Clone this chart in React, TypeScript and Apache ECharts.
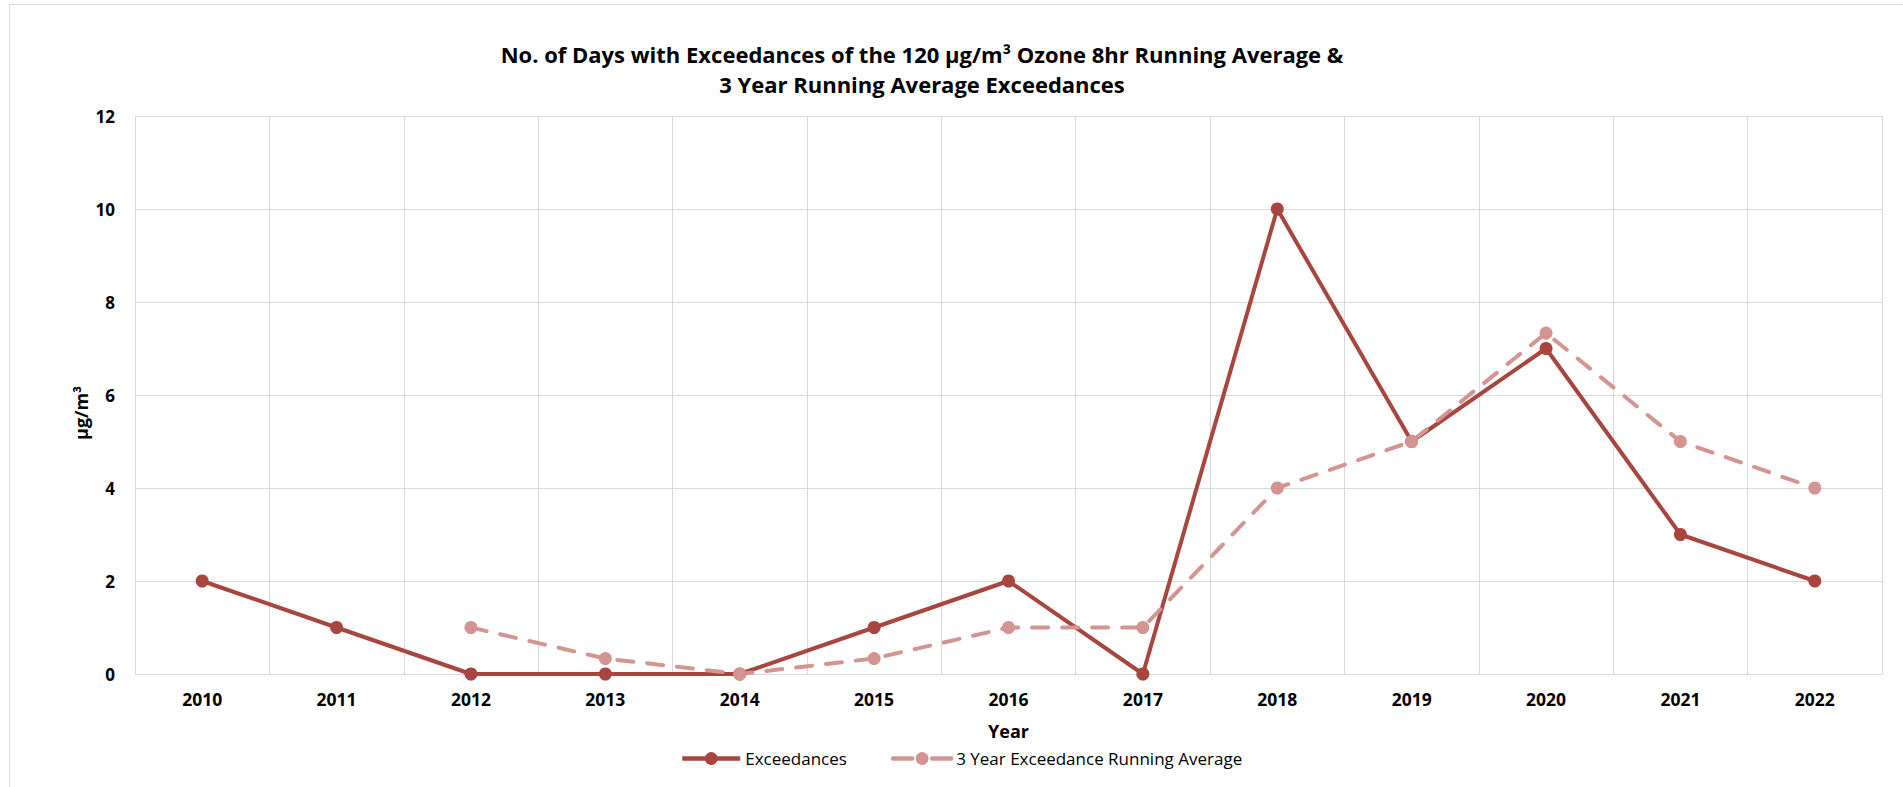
import React, { useEffect, useRef } from "react";
import * as echarts from "echarts";

const years = ["2010", "2011", "2012", "2013", "2014", "2015", "2016", "2017", "2018", "2019", "2020", "2021", "2022"];
const exceedances = [2, 1, 0, 0, 0, 1, 2, 0, 10, 5, 7, 3, 2];
const runningAverage = [null, null, 1, 0.333, 0, 0.333, 1, 1, 4, 5, 7.333, 5, 4];
const yTicks = [0, 2, 4, 6, 8, 10, 12];

const FONT = "'Open Sans', 'Noto Sans', sans-serif";
const DARK = "#A8453F";
const LIGHT = "#D39492";
const GRID = "#D9D9D9";

export default function App() {
  const ref = useRef<HTMLDivElement>(null);

  useEffect(() => {
    if (!ref.current) return;
    const chart = echarts.init(ref.current, null, { renderer: "svg" });
    chart.setOption({
      animation: false,
      backgroundColor: "#ffffff",
      textStyle: { fontFamily: FONT },
      graphic: [
        {
          type: "rect",
          shape: { x: 9.5, y: 4.5, width: 1920, height: 820 },
          style: { fill: "none", stroke: "#D9D9D9", lineWidth: 1 },
          silent: true,
        },
        {
          type: "text",
          x: 922,
          y: 54,
          style: {
            text: "No. of Days with Exceedances of the 120 µg/m³ Ozone 8hr Running Average &",
            font: `bold 22px ${FONT}`,
            fill: "#000000",
            textAlign: "center",
            textVerticalAlign: "middle",
          },
        },
        {
          type: "text",
          x: 922,
          y: 84,
          style: {
            text: "3 Year Running Average Exceedances",
            font: `bold 22px ${FONT}`,
            fill: "#000000",
            textAlign: "center",
            textVerticalAlign: "middle",
          },
        },
        {
          // y-axis title, placed by hand so it sits a little below the plot centre
          type: "text",
          x: 81,
          y: 413,
          rotation: Math.PI / 2,
          style: {
            text: "µg/m³",
            font: `bold 18px ${FONT}`,
            fill: "#000000",
            textAlign: "center",
            textVerticalAlign: "middle",
          },
        },
      ],
      grid: { left: 135, right: 21, top: 116, bottom: 113 },
      legend: {
        left: 675,
        top: 745,
        itemWidth: 58,
        itemHeight: 16,
        itemGap: 44,
        lineStyle: { width: 4.5 },
        textStyle: { fontFamily: FONT, fontSize: 17, color: "#000000" },
        data: [
          { name: "Exceedances" },
          { name: "3 Year Exceedance Running Average", lineStyle: { width: 4.5, type: [19, 20], cap: "round" } },
        ],
      },
      xAxis: {
        type: "category",
        data: years,
        boundaryGap: true,
        name: "Year",
        nameLocation: "middle",
        nameGap: 48,
        nameTextStyle: { fontFamily: FONT, fontSize: 18, fontWeight: "bold", color: "#000000" },
        axisLine: { show: true, lineStyle: { color: GRID, width: 1 } },
        axisTick: { show: false },
        axisLabel: { fontFamily: FONT, fontSize: 17.5, fontWeight: "bold", color: "#000000", margin: 16 },
        splitLine: { show: true, lineStyle: { color: GRID, width: 1 } },
      },
      yAxis: {
        type: "value",
        min: 0,
        max: 12,
        interval: 2,
        axisLine: { show: false },
        axisTick: { show: false },
        axisLabel: {
          fontFamily: FONT,
          fontSize: 17,
          fontWeight: "bold",
          color: "#000000",
          margin: 20,
          customValues: yTicks,
        },
        splitLine: { show: true, lineStyle: { color: GRID, width: 1 } },
      },
      series: [
        {
          name: "Exceedances",
          type: "line",
          data: exceedances,
          symbol: "circle",
          symbolSize: 13,
          itemStyle: { color: DARK },
          lineStyle: { color: DARK, width: 4 },
        },
        {
          name: "3 Year Exceedance Running Average",
          type: "line",
          data: runningAverage,
          symbol: "circle",
          symbolSize: 13,
          itemStyle: { color: LIGHT },
          lineStyle: { color: LIGHT, width: 4, type: [16, 14], cap: "round" },
        },
      ],
    });
    return () => chart.dispose();
  }, []);

  return (
    <div
      ref={ref}
      style={{ position: "absolute", left: 0, top: 0, width: 1903, height: 787 }}
    />
  );
}
